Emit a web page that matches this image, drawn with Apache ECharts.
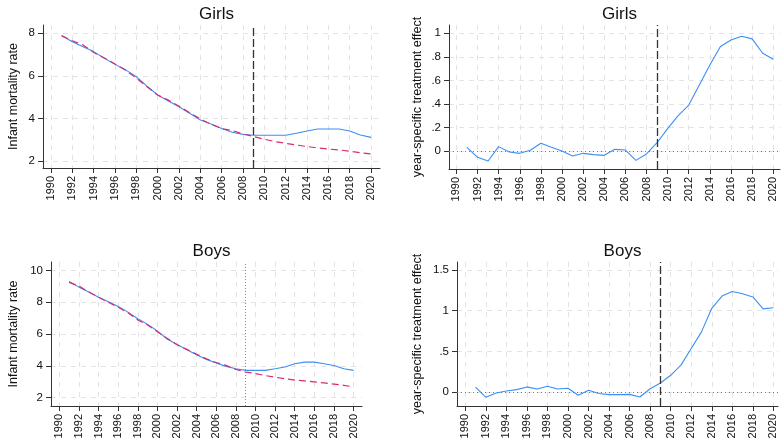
<!DOCTYPE html>
<html><head><meta charset="utf-8">
<script src="https://cdn.jsdelivr.net/npm/echarts@6/dist/echarts.min.js"></script>
<style>html,body{margin:0;padding:0;background:#fff}#c{width:783px;height:448px}</style>
</head><body><div id="c"></div>
<script>
const years = [1991,1992,1993,1994,1995,1996,1997,1998,1999,2000,2001,2002,2003,2004,2005,2006,2007,2008,2009,2010,2011,2012,2013,2014,2015,2016,2017,2018,2019,2020];
const girlsActual    = [7.90,7.60,7.37,7.14,6.83,6.54,6.28,5.96,5.52,5.10,4.82,4.55,4.24,3.93,3.74,3.53,3.35,3.25,3.21,3.21,3.21,3.21,3.30,3.41,3.50,3.50,3.50,3.41,3.22,3.11];
const girlsSynthetic = [7.88,7.65,7.45,7.10,6.84,6.56,6.27,5.89,5.49,5.10,4.86,4.57,4.27,3.97,3.73,3.52,3.43,3.27,3.15,3.02,2.91,2.83,2.75,2.68,2.61,2.56,2.52,2.46,2.39,2.33];
const girlsEffect    = [0.03,-0.054,-0.085,0.037,-0.008,-0.02,0.006,0.065,0.031,0.0,-0.042,-0.02,-0.031,-0.037,0.014,0.008,-0.08,-0.025,0.07,0.19,0.30,0.39,0.56,0.73,0.887,0.943,0.975,0.952,0.83,0.78];
const boysActual     = [9.31,8.95,8.64,8.32,8.03,7.74,7.38,6.96,6.61,6.19,5.69,5.35,5.02,4.70,4.41,4.18,3.97,3.82,3.72,3.72,3.72,3.82,3.93,4.14,4.24,4.24,4.14,4.03,3.82,3.72];
const boysSynthetic  = [9.25,9.02,8.65,8.31,8.00,7.68,7.34,6.89,6.57,6.15,5.73,5.33,5.04,4.73,4.44,4.21,4.03,3.78,3.61,3.52,3.39,3.29,3.19,3.11,3.06,3.00,2.93,2.86,2.78,2.68];
const boysEffect     = [0.06,-0.066,-0.012,0.012,0.029,0.062,0.037,0.07,0.037,0.045,-0.04,0.02,-0.02,-0.033,-0.033,-0.03,-0.062,0.04,0.11,0.205,0.33,0.534,0.74,1.03,1.18,1.237,1.21,1.17,1.023,1.036];
const xTickValues = [1990,1992,1994,1996,1998,2000,2002,2004,2006,2008,2010,2012,2014,2016,2018,2020];
const yTicksGirlsRate = [2,4,6,8];
const yTicksBoysRate = [2,4,6,8,10];
const yTicksGirlsEffect = [0,0.2,0.4,0.6,0.8,1];
const yTicksBoysEffect = [0,0.5,1,1.5];
const treatmentYear = 2009;
const panelTitles = ['Girls','Girls','Boys','Boys'];
const yNameRate = 'Infant mortality rate';
const yNameEffect = 'year-specific treatment effect';

const FONT = "'Liberation Sans', Arial, Helvetica, sans-serif";
const BLUE = '#3b8ff5';
const RED = '#d92c6c';
const AX = '#333333';

const grids = [
  {left:43, top:25, width:337, height:143},
  {left:449, top:25, width:331, height:144},
  {left:51, top:262, width:311, height:144},
  {left:457, top:262, width:321, height:144}
];
const xRanges = [[1989.25,2020.84],[1989.3,2020.64],[1989.15,2020.86],[1989.19,2020.45]];
const yRanges = [[1.67,8.39],[-0.153,1.07],[1.48,10.53],[-0.173,1.60]];
const yTicks = [yTicksGirlsRate, yTicksGirlsEffect, yTicksBoysRate, yTicksBoysEffect];
const yNames = [yNameRate, yNameEffect, yNameRate, yNameEffect];
const nameGaps = [23, 25, 31, 33];

const stataFmt = v => {
  if (v === 0) return '0';
  let s = String(+v.toFixed(4));
  return s.replace(/^0\./, '.').replace(/^-0\./, '-.');
};

const gridLine = {show:true, lineStyle:{color:'#e3e3e3', width:1, type:[5,5]}};

const xAxes = grids.map((g,i) => ({
  type:'value', gridIndex:i, min:xRanges[i][0], max:xRanges[i][1],
  axisLine:{show:true, onZero:false, lineStyle:{color:AX, width:1}},
  axisTick:{show:true, length:5, customValues:xTickValues, lineStyle:{color:AX}},
  axisLabel:{customValues:xTickValues, rotate:90, fontSize:11, color:'#111', margin:8, fontFamily:FONT, formatter: v => String(v)},
  splitLine:gridLine
}));
const yAxes = grids.map((g,i) => ({
  type:'value', gridIndex:i, min:yRanges[i][0], max:yRanges[i][1],
  name: yNames[i], nameLocation:'middle', nameGap:nameGaps[i], nameRotate:90,
  nameTextStyle:{fontSize:12.5, color:'#111', fontFamily:FONT},
  axisLine:{show:true, onZero:false, lineStyle:{color:AX, width:1}},
  axisTick:{show:true, length:5, customValues:yTicks[i], lineStyle:{color:AX}},
  axisLabel:{customValues:yTicks[i], fontSize:11.5, color:'#111', margin:8, fontFamily:FONT, formatter: stataFmt},
  splitLine:gridLine
}));

const titles = grids.map((g,i) => ({
  text: panelTitles[i], left: g.left + g.width/2, top: g.top - 24, textAlign:'center',
  textStyle:{fontSize:17, fontWeight:'normal', color:'#111', fontFamily:FONT}
}));

const pts = arr => years.map((y,k) => [y, arr[k]]);
const dashedV = {color:'#333', width:1.3, type:[8,3]};
const dottedV = {color:'#888', width:1, type:[1,2]};
const dottedH = {color:'#777', width:1, type:[1,3]};

function vLine(style){ return {symbol:'none', silent:true, label:{show:false}, animation:false, data:[{xAxis:treatmentYear, lineStyle:style}]}; }
function vhLines(style){ return {symbol:'none', silent:true, label:{show:false}, animation:false, data:[{yAxis:0, lineStyle:dottedH},{xAxis:treatmentYear, lineStyle:style}]}; }

const lineBase = {type:'line', showSymbol:false, symbol:'none', animation:false, z:3};
const series = [
  Object.assign({}, lineBase, {xAxisIndex:0, yAxisIndex:0, data:pts(girlsActual), lineStyle:{color:BLUE, width:1.1}, markLine:vLine(dashedV)}),
  Object.assign({}, lineBase, {xAxisIndex:0, yAxisIndex:0, data:pts(girlsSynthetic), lineStyle:{color:RED, width:1.2, type:[7,4]}}),
  Object.assign({}, lineBase, {xAxisIndex:1, yAxisIndex:1, data:pts(girlsEffect), lineStyle:{color:BLUE, width:1.1}, markLine:vhLines(dashedV)}),
  Object.assign({}, lineBase, {xAxisIndex:2, yAxisIndex:2, data:pts(boysActual), lineStyle:{color:BLUE, width:1.1}, markLine:vLine(dottedV)}),
  Object.assign({}, lineBase, {xAxisIndex:2, yAxisIndex:2, data:pts(boysSynthetic), lineStyle:{color:RED, width:1.2, type:[7,4]}}),
  Object.assign({}, lineBase, {xAxisIndex:3, yAxisIndex:3, data:pts(boysEffect), lineStyle:{color:BLUE, width:1.1}, markLine:vhLines(dashedV)})
];

const chart = echarts.init(document.getElementById('c'), null, {renderer:'canvas'});
chart.setOption({
  backgroundColor:'#fff',
  animation:false,
  title:titles,
  grid:grids.map(g => Object.assign({containLabel:false}, g)),
  xAxis:xAxes, yAxis:yAxes, series
});
</script></body></html>
